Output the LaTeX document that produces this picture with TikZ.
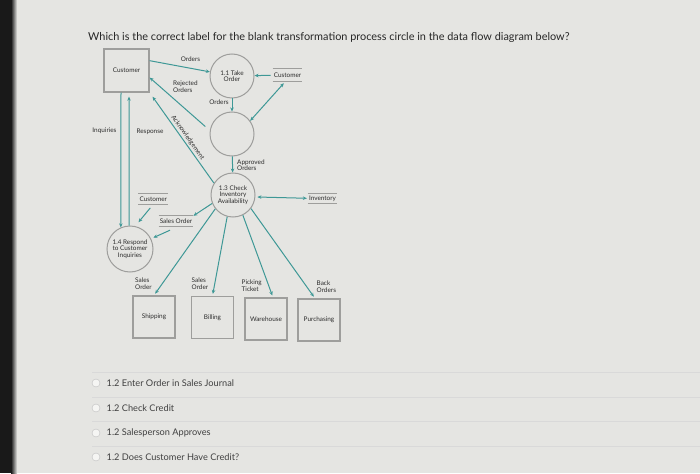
\documentclass[tikz,border=0pt]{standalone}
\usepackage{fontspec}
\setmainfont{Lato}
\usetikzlibrary{arrows.meta}
\definecolor{paper}{RGB}{229,229,226}
\definecolor{flow}{RGB}{62,152,150}
\definecolor{rim}{RGB}{158,158,156}
\definecolor{ink}{RGB}{45,45,45}
\newcommand{\dfd}{\fontsize{6.4}{6.6}\selectfont}

\begin{document}
\begin{tikzpicture}[x=1pt,y=-1pt,
  ent/.style={draw=rim,line width=1.3pt,minimum width=42pt,minimum height=42pt,inner sep=0pt,font=\dfd,text=ink},
  proc/.style={circle,draw=rim,line width=1pt,minimum size=44pt,inner sep=0pt,align=center,font=\dfd,text=ink},
  store/.style={minimum height=11pt,inner xsep=1pt,inner ysep=0pt,font=\dfd,text=ink},
  lbl/.style={font=\dfd,text=ink,align=left,inner sep=0pt},
  fl/.style={draw=flow,line width=1pt,-{Stealth[length=4pt,width=3.5pt]}},
  both/.style={fl,{Stealth[length=4pt,width=3.5pt]}-{Stealth[length=4pt,width=3.5pt]}},
  radio/.style={circle,draw=black!25,fill=white!60!paper,minimum size=8pt,inner sep=0pt},
  answer/.style={anchor=west,inner sep=0pt,font=\fontsize{9.2}{11}\selectfont,text=black!75}]
  \fill[paper] (0,0) rectangle (700,473);
  \fill[black!90] (0,0) rectangle (11,473);
  \shade[left color=black!90,right color=paper] (11,0) rectangle (17,473);
  \useasboundingbox (0,0) rectangle (700,473);

  \node[anchor=west,inner sep=0pt,font=\fontsize{10.9}{13}\selectfont,text=black!85] (question) at (88,37)
    {Which is the correct label for the blank transformation process circle in the data flow diagram below?};

  \node[ent,minimum width=45pt,minimum height=43pt] (cust) at (126.5,70.5) {Customer};
  \node[proc] (take) at (232,76) {1.1 Take\\Order};
  \node[proc] (blank) at (232,134) {};
  \node[proc] (check) at (233,195) {1.3 Check\\Inventory\\Availability};
  \node[proc,minimum size=46pt] (respond) at (130,249) {1.4 Respond\\to Customer\\Inquiries};

  \node[store,minimum height=12.5pt] (custA) at (287.5,75.3) {Customer};
  \node[store] (custB) at (153.3,199.2) {Customer};
  \node[store,minimum height=10pt] (sales) at (176,221) {Sales Order};
  \node[store,minimum height=10pt] (inv) at (322.5,198.3) {Inventory};
  \foreach \s in {custA,custB,sales,inv}
    \draw[rim,line width=1pt] (\s.north west) -- (\s.north east) (\s.south west) -- (\s.south east);

  \node[ent] (ship) at (154,317) {Shipping};
  \node[ent] (bill) at (212.5,317.5) {Billing};
  \node[ent] (ware) at (266,319) {Warehouse};
  \node[ent] (purch) at (319,320) {Purchasing};

  \draw[fl] (cust.23) -- (take);
  \draw[fl,shorten <=2pt] (custA.west) -- (take);
  \draw[both,shorten <=2pt] (custA.250) -- (blank.36);
  \draw[fl] (take) -- (blank);
  \draw[fl] (blank) -- (check);
  \draw[fl,shorten <=6pt] (blank.171) -- (cust.-17);
  \draw[fl,shorten >=5pt] (check.148) -- (cust.south east)
    node[lbl,sloped,above=1.5pt,pos=0.47] {Acknowledgement};
  \draw[fl] ([xshift=-5.5pt]cust.south) -- (respond.113);
  \draw[fl,shorten >=4pt] (respond.92) -- ([xshift=2.5pt]cust.south);
  \draw[fl,shorten >=5pt] ([xshift=-3pt,yshift=-3pt]custB.south) -- (respond.77);
  \draw[fl] (check.202) -- (sales.north east);
  \draw[fl,shorten >=2.5pt] ([xshift=-6pt,yshift=-4pt]sales.south) -- (respond.26);
  \draw[both,shorten <=2pt,shorten >=1pt] (check.-5) -- (inv.west);
  \draw[fl,shorten >=2pt] (check.218) -- (ship.north);
  \draw[fl,shorten >=2pt] (check.255) -- (bill.north);
  \draw[fl,shorten >=2pt] (check.296) -- ([xshift=7pt]ware.north);
  \draw[fl,shorten >=2pt] (check.323) -- ([xshift=-4pt]purch.north);

  \node[lbl] (lOrders) at (190.5,59) {Orders};
  \node[lbl,anchor=west] (lRejected) at (173,86.5) {Rejected\\Orders};
  \node[lbl] (lOrders2) at (219,102) {Orders};
  \node[lbl,anchor=west] (lApproved) at (237,165) {Approved\\Orders};
  \node[lbl] (lInquiries) at (104.5,131) {Inquiries};
  \node[lbl] (lResponse) at (150,131.5) {Response};
  \node[lbl,anchor=west] (lShip) at (135,283.5) {Sales\\Order};
  \node[lbl,anchor=west] (lBill) at (191.5,283.5) {Sales\\Order};
  \node[lbl,anchor=west] (lPick) at (241.5,285.5) {Picking\\Ticket};
  \node[lbl,anchor=west] (lBack) at (316.5,286.5) {Back\\Orders};

  \foreach \y in {372,397,421.5,446}
    \draw[black!15,line width=0.8pt] (92,\y) -- (700,\y);
  \foreach \y/\t [count=\i] in {383/1.2 Enter Order in Sales Journal,408/1.2 Check Credit,
      433/1.2 Salesperson Approves,457/1.2 Does Customer Have Credit?}{
    \node[radio] (radio\i) at (96,\y) {};
    \node[answer] (answer\i) at (106.5,\y) {\t};
  }
\end{tikzpicture}
\end{document}
